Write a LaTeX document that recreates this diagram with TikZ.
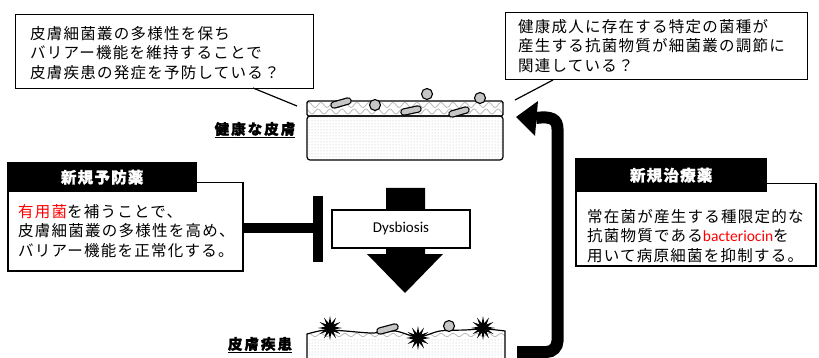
\documentclass[tikz,border=0pt]{standalone}
\usepackage{fontspec}
\newfontfamily\jp{Noto Sans CJK JP}[LetterSpace=8, BoldFeatures={FakeBold=1.2}]
\newfontfamily\jplabel{Noto Sans CJK JP}[LetterSpace=14, BoldFeatures={FakeBold=1.5}]
\newfontfamily\lat{Carlito}
\usetikzlibrary{shapes.geometric,patterns.meta}

% rod-shaped bacterium: dark outline with a grey body
\newcommand\bactrod[2]{%
  \draw[line width=7.5pt, line cap=round] #1 -- #2;
  \draw[line width=5pt, line cap=round, gray!45] #1 -- #2;}
% coccus
\newcommand\bactball[1]{\draw[line width=1.1pt, fill=gray!45] #1 circle[radius=5.5];}

\begin{document}
\begin{tikzpicture}[x=1pt, y=-1pt,
  box/.style={draw, line width=1.3pt, fill=white, inner sep=0pt, anchor=north west},
  body/.style={font=\jp\fontsize{15.5}{19.5}\selectfont, align=left, inner sep=0pt, anchor=west},
  headbar/.style={fill=black, inner sep=0pt, anchor=north west},
  headtext/.style={text=white, font=\jp\bfseries\fontsize{15.5}{17}\selectfont, inner sep=0pt},
  skinlabel/.style={font=\jplabel\bfseries\fontsize{14.5}{15}\selectfont, inner sep=0pt},
  pointer/.style={line width=1.2pt},
  burst/.style={star, star points=12, star point ratio=2.4, fill=black, minimum size=24pt, inner sep=0pt},
  dotfill/.style={pattern={Dots[radius=0.5pt, distance=3pt]}, pattern color=gray!55},
  wave/.style={gray!55, line width=0.8pt}
]
\useasboundingbox (0,0) rectangle (819,358);

% ---------- question callouts ----------
\node[box, minimum width=298pt, minimum height=74pt] (qa) at (15,14) {};
\node[body] (qatext) at (30,53) {皮膚細菌叢の多様性を保ち\\バリアー機能を維持することで\\皮膚疾患の発症を予防している？};
\coordinate (qa tail) at (253,88);
\coordinate (qa tip) at (297,106);
\draw[pointer] (qa tail) -- (qa tip);

\node[box, minimum width=302pt, minimum height=67pt] (qb) at (505,12) {};
\node[body] (qbtext) at (518,46) {健康成人に存在する特定の菌種が\\産生する抗菌物質が細菌叢の調節に\\関連している？};
\coordinate (qb tail) at (553,80);
\coordinate (qb tip) at (515,100);
\draw[pointer] (qb tail) -- (qb tip);

% ---------- healthy skin ----------
\draw[line width=1.2pt, rounded corners=3pt, dotfill] (307,116) rectangle (503,160);
\begin{scope}
  \clip (307,101) rectangle (503,116);
  \draw[wave] plot[domain=307:503, samples=150] (\x, {105+2.5*sin(\x*30)});
  \draw[wave] plot[domain=307:503, samples=150] (\x, {111.5+2.5*sin(\x*30+90)});
\end{scope}
\draw[line width=1.2pt, rounded corners=1.5pt] (307,101) rectangle (503,116);
\coordinate (healthy) at (503,116);
\bactrod{(334,105)}{(348,101)}
\bactrod{(404,112)}{(418,109)}
\bactrod{(452,114)}{(466,110)}
\bactball{(375,105)}
\bactball{(427,94)}
\bactball{(480,98)}
\node[skinlabel] (hlabel) at (255,130) {\underline{健康な皮膚}};

% ---------- diseased skin ----------
\begin{scope}
  \clip (307,359) -- plot[smooth] coordinates {(307,334) (325,330) (345,331) (372,333) (395,331) (418,337) (440,331) (465,330) (485,329) (505,331)} -- (505,359) -- cycle;
  \fill[dotfill] (307,338) rectangle (505,360);
  \draw[wave] plot[domain=307:505, samples=150] (\x, {335+1.6*sin(\x*30)});
\end{scope}
\draw[line width=1.2pt] (307,359) -- plot[smooth] coordinates {(307,334) (325,330) (345,331) (372,333) (395,331) (418,337) (440,331) (465,330) (485,329) (505,331)} -- (505,359);
\bactrod{(380,331)}{(395,327)}
\bactball{(449,326)}
\node[burst] (b1) at (330,328) {};
\node[burst] (b2) at (418,338) {};
\node[burst] (b3) at (483,328) {};
\node[skinlabel] (dlabel) at (260,345) {\underline{皮膚疾患}};
\coordinate (diseased) at (517,352);

% ---------- dysbiosis arrow ----------
\fill (386,188) -- (425,188) -- (425,254) -- (443,254) -- (405,293) -- (367,254) -- (386,254) -- cycle;
\node[draw, line width=1.2pt, fill=white, minimum width=138pt, minimum height=38pt, inner sep=0pt,
      font=\lat\fontsize{15}{17}\selectfont] (dys) at (401,229) {Dysbiosis};

% ---------- prevention box ----------
\node[box, line width=1.5pt, minimum width=235pt, minimum height=88pt] (prev) at (7,182) {};
\node[headbar, minimum width=190pt, minimum height=30pt] (prevhead) at (7,162) {};
\node[headtext] at (prevhead.center) {新規予防薬};
\node[body] (prevtext) at (18,231) {{\color{red}有用菌}を補うことで、\\皮膚細菌叢の多様性を高め、\\バリアー機能を正常化する。};

% inhibition of dysbiosis
\coordinate (stop) at (318,228);
\draw[line width=10pt] (prev.east |- stop) -- (stop);
\draw[line width=10pt] (318,196) -- (318,262);

% ---------- treatment box ----------
\node[box, line width=1.5pt, minimum width=240pt, minimum height=82pt] (treat) at (575,183) {};
\node[headbar, minimum width=192pt, minimum height=34pt] (treathead) at (575,158) {};
\node[headtext] at (treathead.center) {新規治療薬};
\node[body] (treattext) at (587,236) {常在菌が産生する種限定的な\\抗菌物質である{\lat\color{red}bacteriocin}を\\用いて病原細菌を抑制する。};

% ---------- recovery arrow ----------
\draw[line width=12pt, rounded corners=11pt] (diseased) -- (557.5,352) -- (557.5,140) .. controls (557.5,119) and (551,116) .. (536,118);
\fill (516,117) -- (538,101) -- (535,136) -- cycle;
\end{tikzpicture}
\end{document}
